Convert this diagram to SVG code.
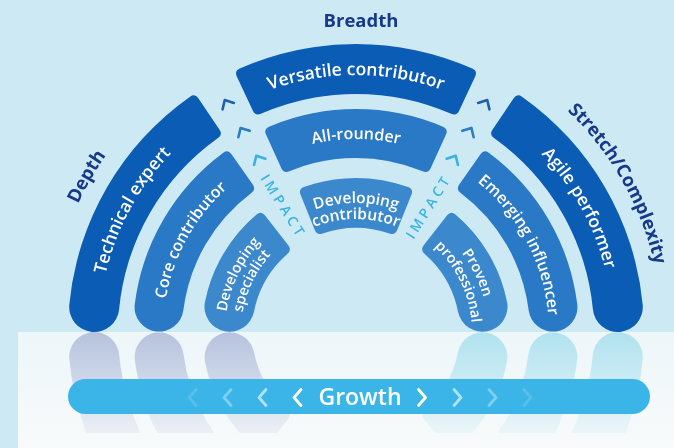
<svg xmlns="http://www.w3.org/2000/svg" width="674" height="448" viewBox="0 0 674 448">
<style>
.t{font-family:'Open Sans','Noto Sans',sans-serif;font-weight:600;fill:#fff}
.outer{fill:#0b5cb5}.mid{fill:#2a79c6}.inner{fill:#3c88cc}
.lbl{font-family:'Open Sans','Noto Sans',sans-serif;font-weight:700;fill:#16398a;font-size:18.5px}
.imp{font-family:'Open Sans','Noto Sans',sans-serif;font-weight:600;fill:#3ab3e5;font-size:14px;letter-spacing:3.5px}
.chev{fill:none;stroke-width:2.6;stroke-linecap:round;stroke-linejoin:round}
.gc{fill:none;stroke:#fff;stroke-width:2.8;stroke-linecap:round;stroke-linejoin:round}
.rl{fill:#8e9dca}.rr{fill:#84d4e8}
</style>
<defs>
<path id="sOut" d="M69.30,304.65 A288,288 0 0 1 190.03,96.63 Q194.95,93.24 198.31,98.21 L219.56,129.71 Q222.91,134.69 218.00,138.09 A238,238 0 0 0 119.08,309.39 A25,25 0 0 1 69.30,304.65 Z"/>
<path id="sMid" d="M134.71,304.48 A223,223 0 0 1 223.28,152.79 Q228.09,149.33 231.53,154.24 L252.76,184.55 Q256.20,189.47 251.33,193.00 A174,174 0 0 0 183.33,310.52 A24.5,24.5 0 0 1 134.71,304.48 Z"/>
<path id="sIn" d="M204.92,302.15 A154,154 0 0 1 256.54,214.42 Q261.19,210.65 264.88,215.37 L288.28,245.32 Q291.97,250.05 287.32,253.91 A104,104 0 0 0 253.97,311.84 A25,25 0 0 1 204.92,302.15 Z"/>
<path id="tOut" d="M236.82,76.42 Q234.29,70.98 239.73,68.51 A288,288 0 0 1 472.27,68.51 Q477.71,70.98 475.18,76.42 L459.12,110.86 Q456.58,116.30 451.13,113.84 A238,238 0 0 0 260.87,113.84 Q255.42,116.30 252.88,110.86 Z"/>
<path id="tMid" d="M266.01,134.54 Q263.52,129.08 269.00,126.67 A223,223 0 0 1 443.00,126.67 Q448.48,129.08 445.99,134.54 L430.64,168.21 Q428.16,173.67 422.64,171.27 A174,174 0 0 0 289.36,171.27 Q283.84,173.67 281.36,168.21 Z"/>
<path id="tIn" d="M300.56,194.78 Q298.31,189.21 303.91,187.08 A154,154 0 0 1 408.09,187.08 Q413.69,189.21 411.44,194.78 L397.21,230.01 Q394.96,235.57 389.33,233.49 A104,104 0 0 0 322.67,233.49 Q317.04,235.57 314.79,230.01 Z"/>
<path id="pVers" d="M114.50,244.10 A257,257 0 0 1 597.50,244.10"/>
<path id="pAll" d="M174.64,265.99 A193,193 0 0 1 537.36,265.99"/>
<path id="pDc1" d="M234.78,287.88 A129,129 0 0 1 477.22,287.88"/>
<path id="pDc2" d="M249.81,293.35 A113,113 0 0 1 462.19,293.35"/>
<path id="pTech" d="M104.16,383.24 A257,257 0 0 1 261.81,92.88"/>
<path id="pAgile" d="M448.10,92.07 A257,257 0 0 1 608.28,381.04"/>
<path id="pCore" d="M166.55,368.83 A193,193 0 0 1 286.83,151.82"/>
<path id="pEmer" d="M428.30,153.05 A193,193 0 0 1 544.78,372.13"/>
<path id="pDev1" d="M228.89,363.69 A131,131 0 0 1 302.72,212.32"/>
<path id="pDev2" d="M244.42,359.82 A115,115 0 0 1 309.22,226.94"/>
<path id="pProv1" d="M409.69,211.41 A132,132 0 0 1 484.08,363.93"/>
<path id="pProv2" d="M403.18,226.03 A116,116 0 0 1 468.55,360.06"/>
<path id="pDepth" d="M54.65,385.14 A306,306 0 0 1 251.34,44.45"/>
<path id="pStretch" d="M463.16,45.38 A306,306 0 0 1 656.87,387.77"/>
<path id="chv" d="M-6.5,3.5 L0,-3.5 L6.5,3.5"/>
<path id="gl" d="M3.5,-8 L-3.5,0 L3.5,8"/>
<path id="gr" d="M-3.5,-8 L3.5,0 L-3.5,8"/>
<linearGradient id="floorG" x1="0" y1="0" x2="0" y2="1"><stop offset="0" stop-color="#edf6f9"/><stop offset="1" stop-color="#f8fafb"/></linearGradient>
<linearGradient id="fadeG" x1="0" y1="0" x2="0" y2="1"><stop offset="0" stop-color="#fff" stop-opacity="0.58"/><stop offset="1" stop-color="#fff" stop-opacity="0.1"/></linearGradient>
<mask id="fadeM" maskUnits="userSpaceOnUse" x="0" y="332" width="674" height="116"><rect x="0" y="332" width="674" height="101" fill="url(#fadeG)"/></mask>
<clipPath id="floorC"><rect x="18" y="332" width="656" height="101"/></clipPath>
</defs>

<rect width="674" height="448" fill="#cdeaf4"/>
<rect x="18" y="332" width="656" height="116" fill="url(#floorG)"/>

<g id="reflection" mask="url(#fadeM)" clip-path="url(#floorC)">
<g transform="matrix(1 0 0 -1 0 664)">
<use href="#sOut" class="rl"/><use href="#sMid" class="rl"/><use href="#sIn" class="rl"/>
<g transform="matrix(-1 0 0 1 712 0)"><use href="#sOut" class="rr"/><use href="#sMid" class="rr"/><use href="#sIn" class="rr"/></g>
</g>
</g>

<g id="labels">
<text class="lbl" x="361" y="27" text-anchor="middle">Breadth</text>
<text class="lbl" text-anchor="middle"><textPath href="#pDepth" startOffset="50%">Depth</textPath></text>
<text class="lbl" text-anchor="middle"><textPath href="#pStretch" startOffset="50%">Stretch/Complexity</textPath></text>
</g>

<g id="technical-expert"><use href="#sOut" class="outer"/>
<text class="t" font-size="17.5" text-anchor="middle"><textPath href="#pTech" startOffset="50%">Technical expert</textPath></text></g>
<g id="versatile-contributor"><use href="#tOut" class="outer"/>
<text class="t" font-size="17.5" text-anchor="middle"><textPath href="#pVers" startOffset="50%">Versatile contributor</textPath></text></g>
<g id="agile-performer"><use href="#sOut" class="outer" transform="matrix(-1 0 0 1 712 0)"/>
<text class="t" font-size="17.5" text-anchor="middle"><textPath href="#pAgile" startOffset="50%">Agile performer</textPath></text></g>

<g id="core-contributor"><use href="#sMid" class="mid"/>
<text class="t" font-size="16" text-anchor="middle"><textPath href="#pCore" startOffset="50%">Core contributor</textPath></text></g>
<g id="all-rounder"><use href="#tMid" class="mid"/>
<text class="t" font-size="16" text-anchor="middle"><textPath href="#pAll" startOffset="50%">All-rounder</textPath></text></g>
<g id="emerging-influencer"><use href="#sMid" class="mid" transform="matrix(-1 0 0 1 712 0)"/>
<text class="t" font-size="16" text-anchor="middle"><textPath href="#pEmer" startOffset="50%">Emerging influencer</textPath></text></g>

<g id="developing-specialist"><use href="#sIn" class="inner"/>
<text class="t" font-size="14.5" text-anchor="middle"><textPath href="#pDev1" startOffset="50%">Developing</textPath></text>
<text class="t" font-size="14.5" text-anchor="middle"><textPath href="#pDev2" startOffset="50%">specialist</textPath></text></g>
<g id="developing-contributor"><use href="#tIn" class="inner"/>
<text class="t" font-size="15.5" text-anchor="middle"><textPath href="#pDc1" startOffset="50%">Developing</textPath></text>
<text class="t" font-size="15.5" text-anchor="middle"><textPath href="#pDc2" startOffset="50%">contributor</textPath></text></g>
<g id="proven-professional"><use href="#sIn" class="inner" transform="matrix(-1 0 0 1 712 0)"/>
<text class="t" font-size="14.5" text-anchor="middle"><textPath href="#pProv1" startOffset="50%">Proven</textPath></text>
<text class="t" font-size="14.5" text-anchor="middle"><textPath href="#pProv2" startOffset="50%">professional</textPath></text></g>

<g id="connectors">
<use href="#chv" class="chev" stroke="#1f5fae" transform="translate(226.5,103.1) rotate(-29.5)"/>
<use href="#chv" class="chev" stroke="#2b7bc6" transform="translate(242.3,131) rotate(-29.5)"/>
<use href="#chv" class="chev" stroke="#39b1e4" transform="translate(258,158.8) rotate(-29.5)"/>
<use href="#chv" class="chev" stroke="#1f5fae" transform="translate(485.5,103.1) rotate(29.5)"/>
<use href="#chv" class="chev" stroke="#2b7bc6" transform="translate(469.7,131) rotate(29.5)"/>
<use href="#chv" class="chev" stroke="#39b1e4" transform="translate(454,158.8) rotate(29.5)"/>
<text class="imp" text-anchor="middle" dy="5" transform="translate(283.5,206.4) rotate(58)">IMPACT</text>
<text class="imp" text-anchor="middle" dy="5" transform="translate(428.5,206.4) rotate(-58)">IMPACT</text>
</g>

<g id="growth">
<rect x="68" y="379" width="582" height="35" rx="17.5" fill="#3bb5e7"/>
<text class="t" font-size="23" x="360" y="405" text-anchor="middle">Growth</text>
<use href="#gl" class="gc" transform="translate(297.5,397.5)"/>
<use href="#gl" class="gc" opacity="0.6" transform="translate(262.5,397.5)"/>
<use href="#gl" class="gc" opacity="0.35" transform="translate(227.5,397.5)"/>
<use href="#gl" class="gc" opacity="0.15" transform="translate(192.5,397.5)"/>
<use href="#gr" class="gc" transform="translate(422,397.5)"/>
<use href="#gr" class="gc" opacity="0.6" transform="translate(457.5,397.5)"/>
<use href="#gr" class="gc" opacity="0.35" transform="translate(492.5,397.5)"/>
<use href="#gr" class="gc" opacity="0.15" transform="translate(527.5,397.5)"/>
</g>
</svg>
